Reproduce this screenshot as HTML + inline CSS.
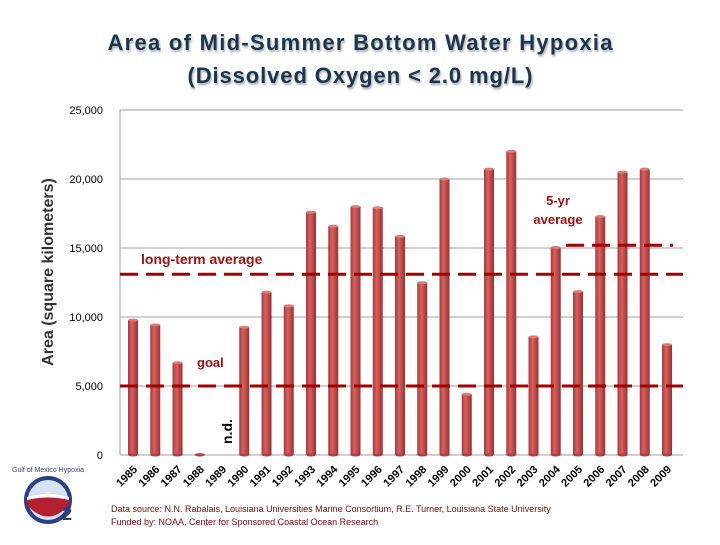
<!DOCTYPE html>
<html><head><meta charset="utf-8"><style>
body{margin:0;background:#fff;}
svg text{font-family:"Liberation Sans",sans-serif;}
</style></head><body>
<svg id="chart" width="720" height="540" xmlns="http://www.w3.org/2000/svg">
<defs>
<linearGradient id="barg" x1="0" x2="1" y1="0" y2="0">
<stop offset="0" stop-color="#a83a3a"/><stop offset="0.4" stop-color="#d9605e"/><stop offset="1" stop-color="#9a3030"/>
</linearGradient>
<filter id="sh"><feDropShadow dx="1" dy="2" stdDeviation="1" flood-color="#000" flood-opacity="0.35"/></filter>
</defs>
<g filter="url(#sh)">
<text x="360" y="50" text-anchor="middle" font-size="22" font-weight="bold" fill="#1f3550" textLength="505">Area of Mid-Summer Bottom Water Hypoxia</text>
<text x="360" y="83" text-anchor="middle" font-size="22" font-weight="bold" fill="#1f3550" textLength="345">(Dissolved Oxygen &lt; 2.0 mg/L)</text>
</g>
<text transform="translate(53,272) rotate(-90)" text-anchor="middle" font-size="16" font-weight="bold" fill="#333">Area (square kilometers)</text>
<g id="grid"></g><g id="bars"></g><g id="lines"></g><g id="xlabels"></g>
<text x="141" y="264" font-size="14" font-weight="bold" fill="#a01010">long-term average</text>
<text x="558" y="205" text-anchor="middle" font-size="13" font-weight="bold" fill="#a01010">5-yr</text>
<text x="558" y="224" text-anchor="middle" font-size="13" font-weight="bold" fill="#a01010">average</text>
<text x="197" y="367" font-size="13" font-weight="bold" fill="#a01010">goal</text>
<text transform="translate(232,444) rotate(-90)" font-size="14" font-weight="bold" fill="#000">n.d.</text>
<g>
<circle cx="48" cy="500" r="22" fill="#d8e2f2" stroke="#2a3f8a" stroke-width="4"/>
<path d="M27,497 Q48,490 69,497 L69,505 Q48,528 27,505 Z" fill="#b42030"/>
<path d="M27,497 Q48,490 69,497 L69,500 Q48,495 27,500 Z" fill="#fff"/>
<text x="62" y="520" font-size="18" font-weight="bold" fill="#2a3f8a">2</text>
<text x="48" y="472" text-anchor="middle" font-size="7" fill="#2a3f8a">Gulf of Mexico Hypoxia</text>
</g>
<text x="111" y="512" font-size="9" fill="#7a0a0a">Data source: N.N. Rabalais, Louisiana Universities Marine Consortium, R.E. Turner, Louisiana State University</text>
<text x="111" y="525" font-size="9" fill="#7a0a0a">Funded by: NOAA, Center for Sponsored Coastal Ocean Research</text>
</svg>
<script>
const years=["1985","1986","1987","1988","1989","1990","1991","1992","1993","1994","1995","1996","1997","1998","1999","2000","2001","2002","2003","2004","2005","2006","2007","2008","2009"];
const areas=[9774,9422,6688,40,0,9259,11796,10804,17592,16576,18002,17920,15840,12480,20000,4400,20720,22000,8560,15040,11840,17280,20500,20720,8000];
const yTicks=[0,5000,10000,15000,20000,25000];
const longTermAvg=[13100];
const fiveYrAvg=[15200];
const goalValue=[5000];
const NS="http://www.w3.org/2000/svg";
const y0=455,y1=110,vmax=25000,xL=120,xR=683,x0=133,dx=22.25;
function yS(v){return y0-(v/vmax)*(y0-y1);}
function xS(i){return x0+i*dx;}
function mk(t,a,p){const e=document.createElementNS(NS,t);for(const k in a)e.setAttribute(k,a[k]);p.appendChild(e);return e;}
const grid=document.getElementById('grid');
yTicks.forEach(v=>{
  const l=mk('line',{x1:xL,x2:xR,y1:yS(v),y2:yS(v),stroke:'#a0a0a0','stroke-width':1},grid);
  
  
  const t=mk('text',{x:103,y:yS(v)+4,'text-anchor':'end','font-size':11,fill:'#000'},grid);
  t.textContent=v.toLocaleString('en-US');
  
  
});
const ax=mk('line',{x1:xL,x2:xL,y1:y1,y2:y0,stroke:'#a0a0a0'},grid);


const bars=document.getElementById('bars');
areas.forEach((v,i)=>{
  if(v<=0)return;
  const cx=xS(i),top=yS(v),w=10;
  const r=mk('rect',{x:cx-w/2,y:top,width:w,height:Math.max(y0-top,1),fill:'url(#barg)'},bars);
  
  
  mk('ellipse',{cx:cx,cy:top,rx:w/2,ry:1.5,fill:'#e07a78'},bars);
  mk('ellipse',{cx:cx,cy:y0,rx:w/2,ry:1.5,fill:'#b04040'},bars);
});
const lines=document.getElementById('lines');
function dash(v,xa,xb,name){
  const l=mk('line',{x1:xa,x2:xb,y1:yS(v),y2:yS(v),stroke:'#a00000','stroke-width':3,'stroke-dasharray':'18,8'},lines);
  
  
}
dash(longTermAvg[0],120,683,'long-term-average-line');
dash(fiveYrAvg[0],566,673,'five-yr-average-line');
dash(goalValue[0],120,683,'goal-line');
const xl=document.getElementById('xlabels');
years.forEach((y,i)=>{
  const t=mk('text',{transform:`translate(${xS(i)+5},${470}) rotate(-45)`,'text-anchor':'end','font-size':11,'font-weight':'bold',fill:'#000'},xl);
  t.textContent=y;
  
  
});
</script>
</body></html>
